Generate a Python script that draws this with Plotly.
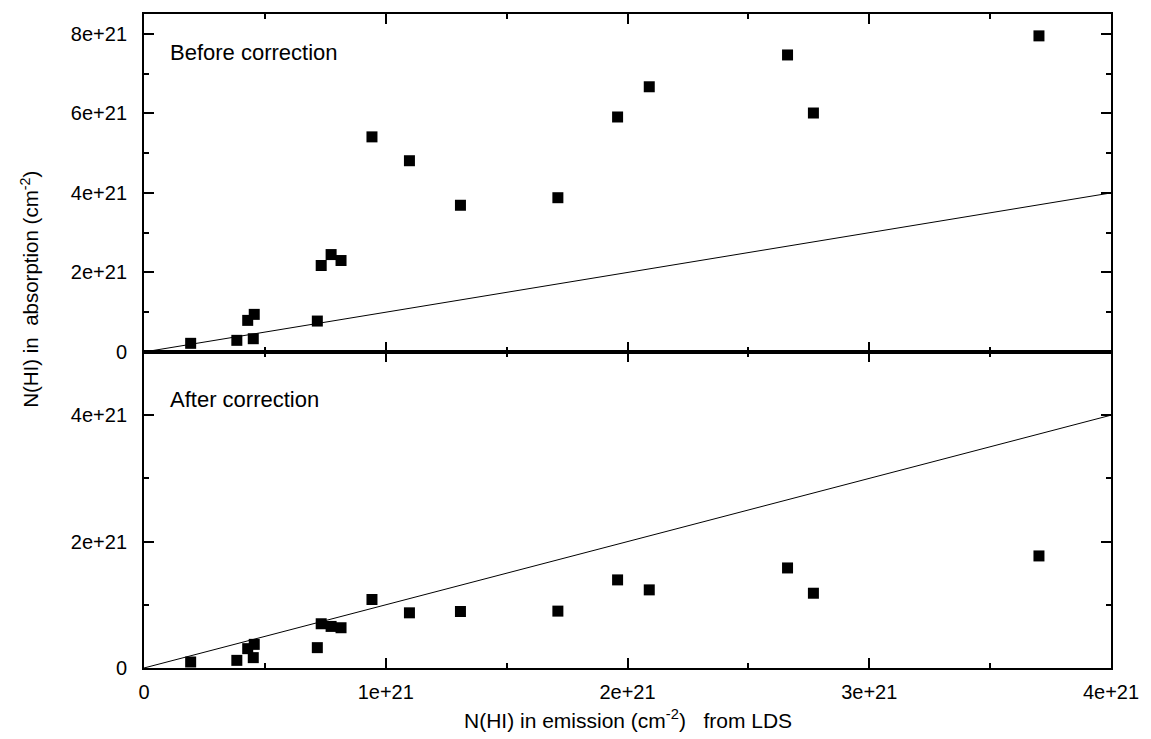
import plotly.graph_objects as go

# Emission column density (x, in 1e21 cm^-2)
nh_emission = [0.193, 0.384, 0.429, 0.456, 0.452, 0.717, 0.733, 0.774, 0.815,
               0.943, 1.098, 1.309, 1.712, 1.959, 2.090, 2.662, 2.769, 3.702]
# Absorption before correction (1e21 cm^-2)
nh_abs_before = [0.218, 0.293, 0.795, 0.946, 0.334, 0.778, 2.175, 2.45, 2.30,
                 5.41, 4.81, 3.69, 3.88, 5.91, 6.67, 7.47, 6.01, 7.95]
# Absorption after correction (1e21 cm^-2)
nh_abs_after = [0.095, 0.121, 0.306, 0.374, 0.164, 0.322, 0.70, 0.658, 0.637,
                1.084, 0.873, 0.894, 0.90, 1.394, 1.236, 1.583, 1.183, 1.773]
# y = x reference line
line_x = [0, 4]
line_y = [0, 4]

E21 = 1e21
x_tickvals = [0, 1, 2, 3, 4]
x_ticktext = ["0", "1e+21", "2e+21", "3e+21", "4e+21"]
top_tickvals = [0, 2, 4, 6, 8]
top_ticktext = ["0", "2e+21", "4e+21", "6e+21", "8e+21"]
bot_tickvals = [0, 2, 4]
bot_ticktext = ["0", "2e+21", "4e+21"]

FONT = "Liberation Sans, Arial, sans-serif"
split = 0.4832

fig = go.Figure()

marker = dict(symbol="square", size=11, color="black", line=dict(width=0))

fig.add_trace(go.Scatter(x=[v * E21 for v in line_x], y=[v * E21 for v in line_y],
                         mode="lines", line=dict(color="black", width=1),
                         xaxis="x2", yaxis="y2", showlegend=False))
fig.add_trace(go.Scatter(x=[v * E21 for v in nh_emission], y=[v * E21 for v in nh_abs_before],
                         mode="markers", marker=marker, xaxis="x2", yaxis="y2", showlegend=False))
fig.add_trace(go.Scatter(x=[v * E21 for v in line_x], y=[v * E21 for v in line_y],
                         mode="lines", line=dict(color="black", width=1),
                         xaxis="x", yaxis="y", showlegend=False))
fig.add_trace(go.Scatter(x=[v * E21 for v in nh_emission], y=[v * E21 for v in nh_abs_after],
                         mode="markers", marker=marker, xaxis="x", yaxis="y", showlegend=False))

common = dict(showline=True, linecolor="black", linewidth=2, mirror="ticks",
              ticks="inside", ticklen=10, tickwidth=1.5, tickcolor="black",
              showgrid=False, zeroline=False,
              tickfont=dict(family=FONT, size=20, color="black"))

fig.update_layout(
    width=1151, height=739,
    margin=dict(l=144, r=34, t=12, b=71),
    paper_bgcolor="white", plot_bgcolor="white",
    xaxis=dict(domain=[0, 1], range=[0, 4 * E21], anchor="y",
               tickmode="array", tickvals=[v * E21 for v in x_tickvals], ticktext=x_ticktext,
               minor=dict(tickmode="linear", tick0=0, dtick=0.5 * E21, ticks="inside",
                          ticklen=5, tickwidth=1.5, tickcolor="black"),
               ticklabelstandoff=5, **common),
    yaxis=dict(domain=[0, split], range=[0, 5 * E21], anchor="x",
               tickmode="array", tickvals=[v * E21 for v in bot_tickvals], ticktext=bot_ticktext,
               minor=dict(tickmode="linear", tick0=0, dtick=1 * E21, ticks="inside",
                          ticklen=5, tickwidth=1.5, tickcolor="black"),
               ticklabelstandoff=11, **common),
    xaxis2=dict(domain=[0, 1], range=[0, 4 * E21], anchor="y2", matches="x",
                tickmode="array", tickvals=[v * E21 for v in x_tickvals], ticktext=x_ticktext,
                showticklabels=False,
                minor=dict(tickmode="linear", tick0=0, dtick=0.5 * E21, ticks="inside",
                           ticklen=5, tickwidth=1.5, tickcolor="black"),
                **common),
    yaxis2=dict(domain=[split, 1], range=[0, 8.5 * E21], anchor="x2",
                tickmode="array", tickvals=[v * E21 for v in top_tickvals], ticktext=top_ticktext,
                minor=dict(tickmode="linear", tick0=0, dtick=1 * E21, ticks="inside",
                           ticklen=5, tickwidth=1.5, tickcolor="black"),
                ticklabelstandoff=11, **common),
    annotations=[
        dict(text="Before correction", xref="paper", yref="paper",
             x=(168 - 144) / 973, y=(668 - 51) / 656, xanchor="left", yanchor="middle",
             showarrow=False, font=dict(family=FONT, size=22, color="black")),
        dict(text="After correction", xref="paper", yref="paper",
             x=(168 - 144) / 973, y=(668 - 399) / 656, xanchor="left", yanchor="middle",
             showarrow=False, font=dict(family=FONT, size=22, color="black")),
        dict(text="N(HI) in emission (cm<sup>-2</sup>)   from LDS", xref="paper", yref="paper",
             x=0.5, y=(668 - 719) / 656, xanchor="center", yanchor="middle",
             showarrow=False, font=dict(family=FONT, size=21, color="black")),
        dict(text="N(HI) in  absorption (cm<sup>-2</sup>)", xref="paper", yref="paper",
             x=(29 - 144) / 973, y=(668 - 288) / 656, xanchor="center", yanchor="middle",
             textangle=-90, showarrow=False, font=dict(family=FONT, size=20.5, color="black")),
    ],
)

fig.write_html("out.html")
